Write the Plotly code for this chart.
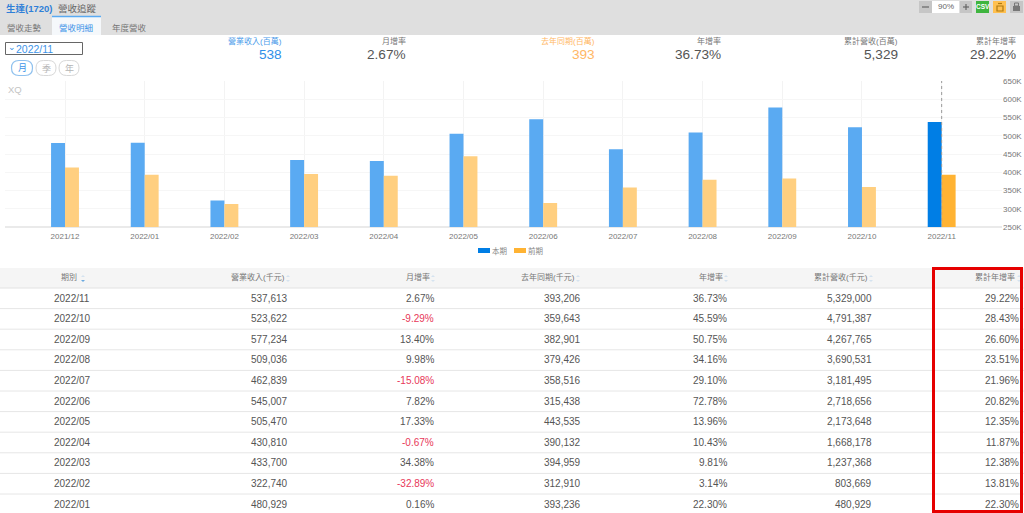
import plotly.graph_objects as go

W, H = 1024, 513
FONT = "Liberation Sans, Noto Sans CJK TC, sans-serif"

bar_months = ["2021/12", "2022/01", "2022/02", "2022/03", "2022/04", "2022/05",
              "2022/06", "2022/07", "2022/08", "2022/09", "2022/10", "2022/11"]
current = [480000, 480929, 322740, 433700, 430810, 505470,
           545007, 462839, 509036, 577234, 523622, 537613]
previous = [413000, 393236, 312910, 394959, 390132, 443535,
            315438, 358516, 379426, 382901, 359643, 393206]
y_ticks = [250000, 300000, 350000, 400000, 450000, 500000, 550000, 600000, 650000]
y_labels = ["250K", "300K", "350K", "400K", "450K", "500K", "550K", "600K", "650K"]

headers = ["期別", "營業收入(千元)", "月增率", "去年同期(千元)", "年增率", "累計營收(千元)", "累計年增率"]
periods = ["2022/11", "2022/10", "2022/09", "2022/08", "2022/07", "2022/06",
           "2022/05", "2022/04", "2022/03", "2022/02", "2022/01"]
revenue = ["537,613", "523,622", "577,234", "509,036", "462,839", "545,007",
           "505,470", "430,810", "433,700", "322,740", "480,929"]
mom = ["2.67%", "-9.29%", "13.40%", "9.98%", "-15.08%", "7.82%",
       "17.33%", "-0.67%", "34.38%", "-32.89%", "0.16%"]
last_year = ["393,206", "359,643", "382,901", "379,426", "358,516", "315,438",
             "443,535", "390,132", "394,959", "312,910", "393,236"]
yoy = ["36.73%", "45.59%", "50.75%", "34.16%", "29.10%", "72.78%",
       "13.96%", "10.43%", "9.81%", "3.14%", "22.30%"]
cumulative = ["5,329,000", "4,791,387", "4,267,765", "3,690,531", "3,181,495", "2,718,656",
              "2,173,648", "1,668,178", "1,237,368", "803,669", "480,929"]
cum_yoy = ["29.22%", "28.43%", "26.60%", "23.51%", "21.96%", "20.82%",
           "12.35%", "11.87%", "12.38%", "13.81%", "22.30%"]

summary_labels = ["營業收入(百萬)", "月增率", "去年同期(百萬)", "年增率", "累計營收(百萬)", "累計年增率"]
summary_values = ["538", "2.67%", "393", "36.73%", "5,329", "29.22%"]

BLUE = "#2f8fe8"
ORANGE = "#ffb866"
GRAY = "#555555"
LIGHT = "#8a8a8a"


def px(x):
    return x / W


def py(y):
    return 1 - y / H


annotations = []
shapes = []


def text(x, y, s, size=10, color=GRAY, anchor="left", bold=False):
    annotations.append(dict(
        x=px(x), y=py(y), xref="paper", yref="paper", text=f"<b>{s}</b>" if bold else s,
        showarrow=False, xanchor=anchor, yanchor="middle", borderpad=0,
        font=dict(size=size, color=color, family=FONT)))


def rect(x0, y0, x1, y1, fill="rgba(0,0,0,0)", line=None, width=1, layer="below"):
    shapes.append(dict(
        type="rect", xref="paper", yref="paper", x0=px(x0), x1=px(x1), y0=py(y0), y1=py(y1),
        fillcolor=fill, line=dict(color=line or fill, width=width if line else 0), layer=layer))


def hline(x0, x1, y, color, width=1):
    shapes.append(dict(type="line", xref="paper", yref="paper", x0=px(x0), x1=px(x1),
                       y0=py(y), y1=py(y), line=dict(color=color, width=width), layer="below"))


def pill(cx, cy, w, h, color, width=1):
    # rounded outline drawn in paper coordinates
    l, r, t, b = cx - w / 2, cx + w / 2, cy - h / 2, cy + h / 2
    k = h / 2
    P = lambda a, c: f"{px(a):.5f},{py(c):.5f}"
    path = (f"M{P(l + k, t)} L{P(r - k, t)} Q{P(r, t)} {P(r, cy)} Q{P(r, b)} {P(r - k, b)} "
            f"L{P(l + k, b)} Q{P(l, b)} {P(l, cy)} Q{P(l, t)} {P(l + k, t)} Z")
    shapes.append(dict(type="path", xref="paper", yref="paper", path=path,
                       line=dict(color=color, width=width), layer="below"))


def tri(cx, cy, up, color):
    d = -2 if up else 2
    P = lambda a, c: f"{px(a):.5f},{py(c):.5f}"
    path = f"M{P(cx - 2, cy)} L{P(cx + 2, cy)} L{P(cx, cy + d)} Z"
    shapes.append(dict(type="path", xref="paper", yref="paper", path=path,
                       fillcolor=color, line=dict(width=0), layer="below"))


# top bar and tabs
rect(0, 0, W, 35, "#dfdfdf")
rect(52, 17, 101, 35, "#f5f8fb")
hline(52, 101, 16.5, "#5aaaf2", 1.5)
text(4.5, 8, "生達(1720)", 9.5, "#2f7fd8", bold=True)
text(57, 8, "營收追蹤", 9.5, "#666666")
text(6, 28, "營收走勢", 8.5, "#777777")
text(58, 28, "營收明細", 8.5, "#3d94e8")
text(111, 28, "年度營收", 8.5, "#777777")

# toolbar
rect(919, 1, 932, 13, "#c6c6c6")
rect(932, 1, 959, 13, "#ffffff")
rect(960, 1, 972, 13, "#c6c6c6")
rect(976, 1, 989, 13, "#3fb53f")
rect(993, 1, 1006, 13, "#ffc050")
rect(1010, 1, 1023, 13, "#c6c6c6")
hline(922, 929, 7, "#666666", 1.2)
hline(963, 969, 7, "#666666", 1.2)
shapes.append(dict(type="line", xref="paper", yref="paper", x0=px(966), x1=px(966),
                   y0=py(4), y1=py(10), line=dict(color="#666666", width=1.2)))
text(945.5, 6, "90%", 8, "#666666", "center")
text(982.5, 7, "CSV", 6.5, "#ffffff", "center", bold=True)
rect(997, 6, 1003, 11, "rgba(0,0,0,0)", "#b07a10", 1.2)
hline(998, 1002, 3.5, "#b07a10", 1.2)
rect(1013, 6, 1020, 11, "#777777")
rect(1014.5, 3, 1018.5, 6, "rgba(0,0,0,0)", "#777777", 1)

# selector
rect(5.5, 42.5, 82.5, 54.5, "#ffffff", "#666666", 1)
text(7, 47.5, "⌄", 9, "#2f8fe8")
text(15, 48.5, "2022/11", 10.5, "#3d94e8")
pill(22, 68, 21, 15, "#8fc1ee", 1.2)
pill(46, 68, 20, 15, "#d8d8d8", 1)
pill(69, 68, 20, 15, "#d8d8d8", 1)
text(22, 68, "月", 9, "#3d94e8", "center")
text(46, 68, "季", 9, "#b5b5b5", "center")
text(69, 68, "年", 9, "#b5b5b5", "center")

# summary strip
sum_right = [283, 407, 596, 722, 899, 1017]
sum_label_color = ["#4a9bea", "#777777", "#ffb866", "#777777", "#777777", "#777777"]
sum_value_color = [BLUE, GRAY, ORANGE, GRAY, GRAY, GRAY]
for xr, lab, val, lc, vc in zip(sum_right, summary_labels, summary_values, sum_label_color, sum_value_color):
    text(xr, 41, lab, 8, lc, "right")
    text(xr, 55, val, 13.6, vc, "right")

text(6.5, 89, "XQ", 9.5, "#c4c4c4")

# legend
rect(478, 248, 490, 253, "#007ee5")
text(491, 251, "本期", 7.5, "#888888")
rect(514, 248, 526, 253, "#ffb333")
text(527, 251, "前期", 7.5, "#888888")

# table
TOP = 268
ROW = 20.6
FIRST = 288
rect(0, TOP, W, FIRST, "#f5f5f5")
hline(0, W, FIRST, "#e2e2e2")
head_right = [None, 286, 431, 576, 724, 869, 1016]
cell_right = [None, 288.5, 434.5, 581.5, 727.5, 872.5, 1020]
arrow_x = [83, 288, 433, 578, 726, 871, 1019]
text(69, 277, headers[0], 8, "#777777", "center")
for i in range(1, 7):
    text(head_right[i], 277, headers[i], 8, "#777777", "right")
for i, ax in enumerate(arrow_x):
    tri(ax, 277, True, "#d5e3f0")
    tri(ax, 280, False, "#6aa9e0" if i == 0 else "#d5e3f0")

columns = [revenue, mom, last_year, yoy, cumulative, cum_yoy]
for r, period in enumerate(periods):
    y = FIRST + 10 + ROW * r
    hline(0, W, FIRST + ROW * (r + 1), "#e6e6e6")
    text(72, y, period, 10, GRAY, "center")
    for c, col in enumerate(columns, start=1):
        val = col[r]
        text(cell_right[c], y, val, 10, "#e8385a" if val.startswith("-") else GRAY, "right")

# highlight frame
rect(933.5, 268.5, 1021.5, 511.5, "rgba(0,0,0,0)", "#e60000", 3, layer="above")

# chart
fig = go.Figure()
fig.add_bar(name="本期", x=bar_months, y=current,
            marker=dict(color=["#5aaaf2"] * 11 + ["#007ee5"], line=dict(width=0)))
fig.add_bar(name="前期", x=bar_months, y=previous,
            marker=dict(color=["#ffcf80"] * 11 + ["#ffb333"], line=dict(width=0)))
shapes.append(dict(type="line", xref="x", yref="paper", x0="2022/11", x1="2022/11",
                   y0=py(227), y1=py(81), line=dict(color="#999999", width=1, dash="dot"), layer="above"))
hline(5, 1002, 227, "#d5d5d5", 1)

fig.update_layout(
    template="none",
    width=W, height=H, autosize=False,
    margin=dict(l=0, r=0, t=0, b=0, pad=0),
    paper_bgcolor="#ffffff", plot_bgcolor="#ffffff",
    barmode="group", bargap=0.65, bargroupgap=0,
    showlegend=False, hovermode=False,
    font=dict(family=FONT),
    shapes=shapes, annotations=annotations,
    xaxis=dict(domain=[px(5), px(1002)], range=[-0.753, 11.757], type="category", automargin=False,
               categoryorder="array", categoryarray=bar_months,
               showgrid=True, gridcolor="#f3f3f3", gridwidth=1, showline=False, zeroline=False,
               ticks="", tickfont=dict(size=8, color="#777777"), ticklabelstandoff=3, tickangle=0),
    yaxis=dict(domain=[py(227), py(81)], range=[250000, 650000], side="right", automargin=False,
               tickvals=y_ticks, ticktext=y_labels, showgrid=True, gridcolor="#f6f6f6",
               showline=False, zeroline=False, ticks="", tickfont=dict(size=8, color="#777777")),
)

fig.write_html("out.html", config={"displayModeBar": False},
               post_script="document.body.style.margin='0';document.documentElement.style.overflow='hidden';")
